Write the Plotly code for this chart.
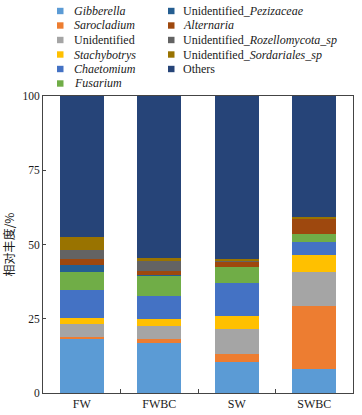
import plotly.graph_objects as go

categories = ["FW", "FWBC", "SW", "SWBC"]

series_names = ["Gibberella", "Sarocladium", "Unidentified", "Stachybotrys", "Chaetomium",
                "Fusarium", "Unidentified_Pezizaceae", "Alternaria",
                "Unidentified_Rozellomycota_sp", "Unidentified_Sordariales_sp", "Others"]
legend_labels = ["<i>Gibberella</i>", "<i>Sarocladium</i>", "Unidentified", "<i>Stachybotrys</i>",
                 "<i>Chaetomium</i>", "<i>Fusarium</i>", "Unidentified_<i>Pezizaceae</i>",
                 "<i>Alternaria</i>", "Unidentified_<i>Rozellomycota_sp</i>",
                 "Unidentified_<i>Sordariales_sp</i>", "Others"]

gibberella = [18.2, 16.7, 10.3, 8.1]
sarocladium = [0.8, 1.5, 2.7, 21.3]
unidentified = [4.1, 4.5, 8.4, 11.2]
stachybotrys = [2.0, 2.2, 4.6, 5.9]
chaetomium = [9.5, 7.9, 11.1, 4.2]
fusarium = [6.0, 6.6, 5.3, 2.9]
pezizaceae = [2.5, 0.2, 0.0, 0.0]
alternaria = [2.0, 1.6, 1.8, 4.9]
rozellomycota = [3.2, 3.2, 0.2, 0.0]
sordariales = [4.3, 1.1, 0.8, 0.9]
others = [47.4, 54.5, 54.8, 40.6]

values = [gibberella, sarocladium, unidentified, stachybotrys, chaetomium, fusarium,
          pezizaceae, alternaria, rozellomycota, sordariales, others]
colors = ["#5B9BD5", "#ED7D31", "#A5A5A5", "#FFC000", "#4472C4", "#70AD47",
          "#255E91", "#9E480E", "#636363", "#997300", "#264478"]

y_ticks = [0, 25, 50, 75, 100]

W, H = 362, 415
ML, MR, MT, MB = 43, 9, 96, 22
PW, PH = W - ML - MR, H - MT - MB

def px_x(px):
    return (px - ML) / PW

def px_y(py):
    return (H - MB - py) / PH

serif = "Liberation Serif"
txt_color = "#1a1a1a"

fig = go.Figure()
for name, vals, col in zip(series_names, values, colors):
    fig.add_trace(go.Bar(
        x=categories, y=vals, name=name, marker=dict(color=col, line=dict(width=0)),
        width=0.57, showlegend=False,
    ))

# legend built as text + key squares (two columns, column-major order)
annotations = []
shapes = []
row_y0, row_step = 11.0, 14.5
for i, (lab, col) in enumerate(zip(legend_labels, colors)):
    colx = 0 if i < 6 else 1
    row = i if i < 6 else i - 6
    sq_x = 57 if colx == 0 else 168
    tx = 71.5 if colx == 0 else 181
    cy = row_y0 + row * row_step
    shapes.append(dict(type="rect", xref="paper", yref="paper",
                       x0=px_x(sq_x), x1=px_x(sq_x + 6.5), y0=px_y(cy + 3.2), y1=px_y(cy - 3.2),
                       fillcolor=col, line=dict(width=0), layer="above"))
    annotations.append(dict(text=lab, xref="paper", yref="paper", x=px_x(tx), y=px_y(cy),
                            xanchor="left", yanchor="middle", showarrow=False,
                            font=dict(family=serif, size=12, color=txt_color)))

fig.update_layout(
    barmode="stack",
    width=W, height=H,
    margin=dict(l=ML, r=MR, t=MT, b=MB, autoexpand=False),
    plot_bgcolor="white", paper_bgcolor="white",
    showlegend=False,
    annotations=annotations,
    shapes=shapes,
    xaxis=dict(
        type="category", showline=True, linecolor="#444", linewidth=1, mirror=True,
        ticks="inside", ticklen=4, tickcolor="#444", tickson="boundaries",
        tickfont=dict(family=serif, size=12, color=txt_color), showgrid=False,
    ),
    yaxis=dict(
        range=[0, 100], tickvals=y_ticks, ticktext=[str(v) for v in y_ticks],
        showline=True, linecolor="#444", linewidth=1, mirror=True,
        ticks="inside", ticklen=3, tickcolor="#444", showgrid=False, zeroline=False,
        tickfont=dict(family=serif, size=11.5, color=txt_color),
        title=dict(text="相对丰度/%", font=dict(family="Noto Sans CJK SC", size=12, color=txt_color), standoff=10),
    ),
)
fig.write_html("out.html", config={"displayModeBar": False},
               post_script="document.body.style.margin='0px';document.body.style.padding='0px';")
